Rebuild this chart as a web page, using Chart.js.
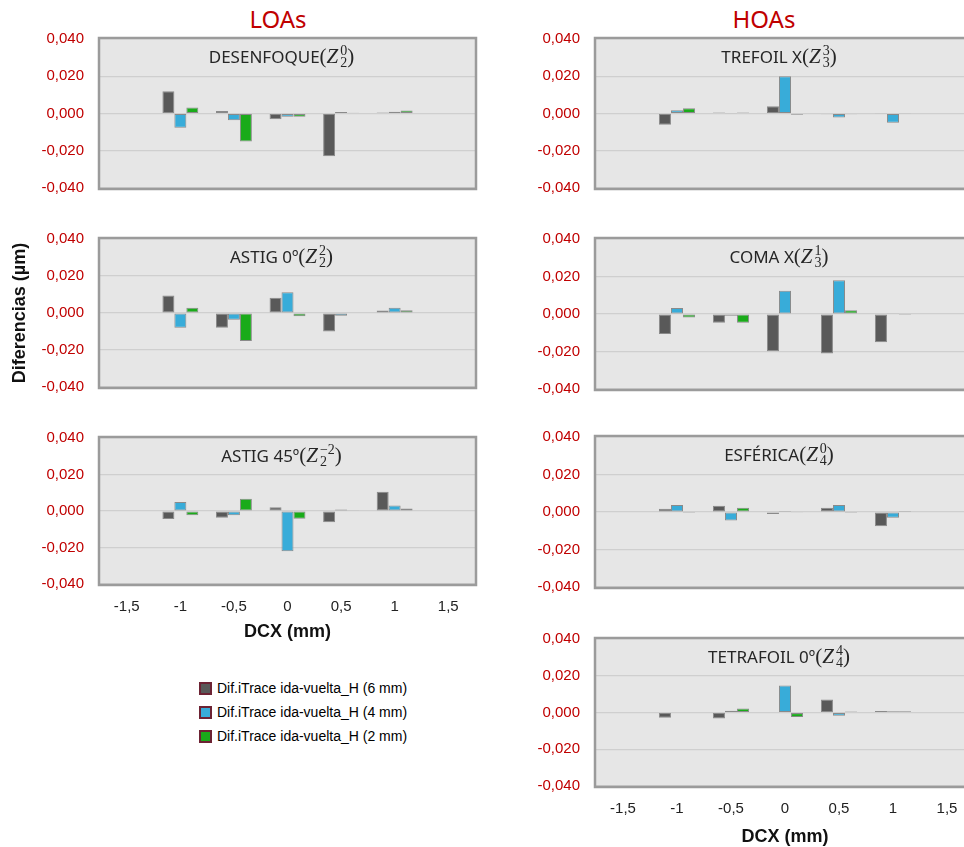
<!DOCTYPE html>
<html lang="es">
<head>
<meta charset="utf-8">
<title>Diferencias iTrace ida-vuelta</title>
<script src="https://cdn.jsdelivr.net/npm/chart.js@4.4.1/dist/chart.umd.min.js"></script>
<style>
  body { margin: 0; width: 964px; height: 847px; overflow: hidden; background: #fff; position: relative; }
  canvas { position: absolute; }
  .group-title { position: absolute; top: 5px; margin: 0; font: 400 24px/28px "Noto Sans", sans-serif; color: #c00000; transform: translateX(-50%); }
  #legend { position: absolute; left: 199px; top: 676px; font: 14px/24px "Liberation Sans", Arial, sans-serif; color: #000; }
  #legend div { display: flex; align-items: center; height: 24px; }
  #legend span.box { width: 9px; height: 9px; border: 2px solid #6d2334; margin-right: 5px; }
</style>
</head>
<body>
<h2 class="group-title" style="left:278px">LOAs</h2>
<h2 class="group-title" style="left:764px">HOAs</h2>

<canvas id="desenfoque" width="480" height="199" style="left:0;top:14px"></canvas>
<canvas id="astig0" width="480" height="198" style="left:0;top:214px"></canvas>
<canvas id="astig45" width="480" height="233" style="left:0;top:413px"></canvas>

<canvas id="trefoil" width="480" height="199" style="left:496px;top:14px"></canvas>
<canvas id="coma" width="480" height="200" style="left:496px;top:214px"></canvas>
<canvas id="esferica" width="480" height="200" style="left:496px;top:412px"></canvas>
<canvas id="tetrafoil" width="480" height="237" style="left:496px;top:614px"></canvas>

<div id="legend"></div>

<script>
// DCX positions shown on the x axis (bars only at -1 ... 1)
const dcxTicks = ['-1,5', '-1', '-0,5', '0', '0,5', '1', '1,5'];
const seriesNames = [
    'Dif.iTrace ida-vuelta_H (6 mm)',
    'Dif.iTrace ida-vuelta_H (4 mm)',
    'Dif.iTrace ida-vuelta_H (2 mm)'
];
const seriesColors = ['#595959', '#38acd9', '#1aab1a'];

// values at DCX = -1, -0,5, 0, 0,5, 1  -> rows: 6 mm, 4 mm, 2 mm
const desenfoque = [
    [0.0120, 0.0014, -0.0031, -0.0229, 0.0005],
    [-0.0076, -0.0036, -0.0018, 0.0008, 0.0010],
    [0.0032, -0.0150, -0.0018, 0.0004, 0.0016]
];
const astig0 = [
    [0.0094, -0.0080, 0.0083, -0.0100, 0.0014],
    [-0.0080, -0.0036, 0.0112, -0.0015, 0.0028],
    [0.0028, -0.0152, -0.0018, 0.0003, 0.0015]
];
const astig45 = [
    [-0.0044, -0.0037, 0.0020, -0.0062, 0.0106],
    [0.0049, -0.0023, -0.0220, 0.0008, 0.0030],
    [-0.0023, 0.0067, -0.0042, 0.0004, 0.0014]
];
const trefoil = [
    [-0.0060, 0.0005, 0.0039, -0.0004, -0.0002],
    [0.0018, 0.0001, 0.0200, -0.0021, -0.0050],
    [0.0028, 0.0005, -0.0007, -0.0004, -0.0002]
];
const coma = [
    [-0.0106, -0.0047, -0.0198, -0.0210, -0.0150],
    [0.0032, -0.0009, 0.0124, 0.0180, 0.0002],
    [-0.0018, -0.0047, -0.0002, 0.0020, -0.0005]
];
const esferica = [
    [0.0018, 0.0034, -0.0010, 0.0023, -0.0076],
    [0.0037, -0.0045, 0.0005, 0.0037, -0.0030],
    [-0.0005, 0.0023, -0.0004, -0.0005, 0.0005]
];
const tetrafoil = [
    [-0.0029, -0.0032, -0.0003, 0.0071, 0.0008],
    [-0.0003, 0.0010, 0.0147, -0.0018, 0.0007],
    [0, 0.0022, -0.0025, 0.0005, 0.0007]
];

// grey plot background + frame
const plotFrame = {
    id: 'plotFrame',
    beforeDraw(chart) {
        const { ctx, chartArea: a } = chart;
        ctx.save();
        ctx.fillStyle = '#e6e6e6';
        ctx.fillRect(a.left, a.top, a.right - a.left, a.bottom - a.top);
        ctx.restore();
    },
    afterDraw(chart) {
        const { ctx, chartArea: a } = chart;
        ctx.save();
        ctx.strokeStyle = '#9b9b9b';
        ctx.lineWidth = 2.5;
        ctx.strokeRect(a.left - 1, a.top - 1, a.right - a.left + 2, a.bottom - a.top + 2);
        ctx.restore();
    }
};

// panel title with the Zernike term, e.g. DESENFOQUE(Z20)
const panelTitle = {
    id: 'panelTitle',
    afterDraw(chart, args, o) {
        if (!o.name) return;
        const { ctx, chartArea: a } = chart;
        const sans = '17px "Noto Sans"';
        const serif = '21px "Liberation Serif"';
        const serifIt = 'italic 21px "Liberation Serif"';
        const small = '14px "Liberation Serif"';
        const w = (f, t) => { ctx.font = f; return ctx.measureText(t).width; };
        ctx.save();
        const wName = w(sans, o.name);
        const wOpen = w(serif, '(');
        const wZ = w(serifIt, 'Z');
        const wIdx = Math.max(w(small, o.sup), w(small, o.sub));
        const wClose = w(serif, ')');
        let x = (a.left + a.right) / 2 - 6 - (wName + wOpen + wZ + 2 + wIdx + wClose) / 2;
        const base = a.top + 24;
        ctx.fillStyle = '#262626';
        ctx.textAlign = 'left';
        ctx.textBaseline = 'alphabetic';
        ctx.font = sans; ctx.fillText(o.name, x, base); x += wName;
        ctx.font = serif; ctx.fillText('(', x, base); x += wOpen;
        ctx.font = serifIt; ctx.fillText('Z', x, base); x += wZ + 2;
        ctx.font = small;
        ctx.fillText(o.sup, x, base - 8);
        ctx.fillText(o.sub, x, base + 4);
        x += wIdx;
        ctx.font = serif; ctx.fillText(')', x, base);
        ctx.restore();
    }
};

function formatTick(v) {
    if (Math.abs(v) < 1e-9) v = 0;
    return v.toFixed(3).replace('.', ',');
}

function buildPanel(id, title, values, opts) {
    const showX = !!opts.xAxisHeight;
    return new Chart(document.getElementById(id), {
        type: 'bar',
        data: {
            labels: dcxTicks,
            datasets: values.map((vals, i) => ({
                label: seriesNames[i],
                data: [null, ...vals, null],
                backgroundColor: seriesColors[i],
                borderColor: '#8a8a8a',
                borderWidth: 1,
                borderSkipped: false,
                categoryPercentage: 0.67,
                barPercentage: 1
            }))
        },
        options: {
            responsive: false,
            animation: false,
            devicePixelRatio: 1,
            // top/bottom room comes from the y tick labels (half label + tick padding)
            layout: { padding: { left: 0, right: opts.padRight, top: 0, bottom: 0 } },
            plugins: {
                legend: { display: false },
                panelTitle: title
            },
            scales: {
                x: {
                    display: showX,
                    offset: true,
                    grid: { display: false },
                    border: { display: false },
                    ticks: { color: '#222', padding: 6, font: { family: 'Liberation Sans', size: 15 } },
                    title: {
                        display: true,
                        text: 'DCX (mm)',
                        color: '#111',
                        padding: { top: 4, bottom: 3 },
                        font: { family: 'Liberation Sans', size: 18, weight: 'bold' }
                    },
                    afterFit: (s) => { if (showX) s.height = opts.xAxisHeight; }
                },
                y: {
                    min: -0.04,
                    max: 0.04,
                    ticks: {
                        stepSize: 0.02,
                        padding: 16,
                        color: '#c00000',
                        font: { family: 'Liberation Sans', size: 15 },
                        callback: formatTick
                    },
                    grid: { color: '#cfcfcf', lineWidth: 1.2, drawTicks: false },
                    border: { display: false },
                    title: {
                        display: !!opts.yTitle,
                        text: 'Diferencias (µm)',
                        color: '#111',
                        padding: { top: 9, bottom: 0 },
                        font: { family: 'Liberation Sans', size: 18, weight: 'bold' }
                    },
                    afterFit: (s) => { s.width = 100; }
                }
            }
        },
        plugins: [plotFrame, panelTitle]
    });
}

const charts = [
    buildPanel('desenfoque', { name: 'DESENFOQUE', sub: '2', sup: '0' }, desenfoque, { padRight: 5 }),
    buildPanel('astig0', { name: 'ASTIG 0º', sub: '2', sup: '2' }, astig0, { padRight: 5, yTitle: true }),
    buildPanel('astig45', { name: 'ASTIG 45º', sub: '2', sup: '−2' }, astig45, { padRight: 5, xAxisHeight: 62 }),
    buildPanel('trefoil', { name: 'TREFOIL X', sub: '3', sup: '3' }, trefoil, { padRight: 2 }),
    buildPanel('coma', { name: 'COMA X', sub: '3', sup: '1' }, coma, { padRight: 2 }),
    buildPanel('esferica', { name: 'ESFÉRICA', sub: '4', sup: '0' }, esferica, { padRight: 2 }),
    buildPanel('tetrafoil', { name: 'TETRAFOIL 0º', sub: '4', sup: '4' }, tetrafoil, { padRight: 2, xAxisHeight: 65 })
];

// shared legend, toggles the series in every panel
const legendEl = document.getElementById('legend');
seriesNames.forEach((name, i) => {
    const row = document.createElement('div');
    const box = document.createElement('span');
    box.className = 'box';
    box.style.background = seriesColors[i];
    row.appendChild(box);
    row.appendChild(document.createTextNode(name));
    row.style.cursor = 'pointer';
    row.addEventListener('click', () => {
        charts.forEach((c) => {
            c.setDatasetVisibility(i, !c.isDatasetVisible(i));
            c.update();
        });
    });
    legendEl.appendChild(row);
});
</script>
</body>
</html>
